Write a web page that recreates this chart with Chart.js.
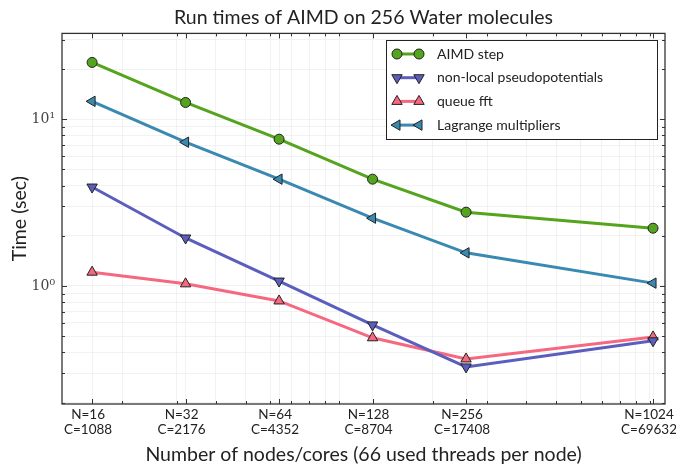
<!DOCTYPE html>
<html>
<head>
    <meta charset="UTF-8" />
    <title>AIMD run times</title>
    <script src="https://cdn.jsdelivr.net/npm/chart.js@4.4.0/dist/chart.umd.min.js"></script>
    <style>
        body { margin: 0; background: #fff; }
        #chart { display: block; }
    </style>
</head>
<body>
    <canvas id="chart" width="676" height="466"></canvas>

    <script>
        // data
        const nodes = [16, 32, 64, 128, 256, 1024];
        const cores = [1088, 2176, 4352, 8704, 17408, 69632];

        const aimdStep  = [21.9, 12.6, 7.59, 4.37, 2.77, 2.22];
        const nonLocal  = [3.92, 1.94, 1.07, 0.584, 0.327, 0.469];
        const queueFft  = [1.21, 1.03, 0.813, 0.489, 0.365, 0.495];
        const lagrange  = [12.8, 7.28, 4.37, 2.55, 1.58, 1.04];

        const xMinor = [20, 30, 40, 50, 60, 70, 80, 90, 100, 200, 300, 400, 500, 600, 700, 800, 900, 1000];
        const yTicks = [0.2, 0.3, 0.4, 0.5, 0.6, 0.7, 0.8, 0.9, 1, 2, 3, 4, 5, 6, 7, 8, 9, 10, 20, 30];
        const yLabels = { 1: '10\u2070', 10: '10\u00b9' };

        const sans = 'Lato';
        const ink = '#222';

        function series(label, values, color, style, rot) {
            return {
                label: label,
                data: nodes.map((n, i) => ({ x: n, y: values[i] })),
                borderColor: color,
                backgroundColor: color,
                borderWidth: 3,
                pointStyle: style,
                pointRotation: rot,
                pointRadius: style === 'circle' ? 5 : 6,
                pointBorderColor: ink,
                pointBorderWidth: 1,
                pointBackgroundColor: color,
                tension: 0
            };
        }

        const datasets = [
            series('AIMD step', aimdStep, '#55a41d', 'circle', 0),
            series('non-local pseudopotentials', nonLocal, '#5b5ebd', 'triangle', 180),
            series('queue fft', queueFft, '#f5687f', 'triangle', 0),
            series('Lagrange multipliers', lagrange, '#3a89b0', 'triangle', -90)
        ];

        // frame, inward ticks and legend box
        const decor = {
            id: 'decor',
            afterDraw(chart) {
                const ctx = chart.ctx;
                const a = chart.chartArea;
                const xs = chart.scales.x, ys = chart.scales.y;
                ctx.save();
                ctx.strokeStyle = '#333';
                ctx.lineWidth = 1;
                xs.ticks.forEach(t => {
                    const px = Math.round(xs.getPixelForValue(t.value)) + 0.5;
                    const len = nodes.includes(t.value) ? 5 : 3;
                    ctx.beginPath();
                    ctx.moveTo(px, a.bottom); ctx.lineTo(px, a.bottom - len);
                    ctx.moveTo(px, a.top); ctx.lineTo(px, a.top + len);
                    ctx.stroke();
                });
                ys.ticks.forEach(t => {
                    const py = Math.round(ys.getPixelForValue(t.value)) + 0.5;
                    const len = yLabels[t.value] ? 5 : 3;
                    ctx.beginPath();
                    ctx.moveTo(a.left, py); ctx.lineTo(a.left + len, py);
                    ctx.moveTo(a.right, py); ctx.lineTo(a.right - len, py);
                    ctx.stroke();
                });
                ctx.lineWidth = 1.3;
                ctx.strokeRect(a.left, a.top, a.right - a.left, a.bottom - a.top);

                // legend
                const bx = 386, by = 40, bw = 271, bh = 99;
                ctx.fillStyle = '#fff';
                ctx.fillRect(bx, by, bw, bh);
                ctx.strokeStyle = ink;
                ctx.lineWidth = 1;
                ctx.strokeRect(bx + 0.5, by + 0.5, bw, bh);
                ctx.font = '14px ' + sans;
                ctx.textBaseline = 'middle';
                chart.data.datasets.forEach((d, i) => {
                    const y = 54 + i * 23.7;
                    ctx.strokeStyle = d.borderColor;
                    ctx.lineWidth = 3;
                    ctx.beginPath();
                    ctx.moveTo(397, y); ctx.lineTo(419, y);
                    ctx.stroke();
                    [397, 419].forEach(x => {
                        ctx.fillStyle = d.pointBackgroundColor;
                        ctx.strokeStyle = ink;
                        ctx.lineWidth = 1;
                        Chart.helpers.drawPoint(ctx, {
                            pointStyle: d.pointStyle,
                            rotation: d.pointRotation,
                            radius: d.pointRadius,
                            borderWidth: 1
                        }, x, y);
                    });
                    ctx.fillStyle = ink;
                    ctx.fillText(d.label, 437, y);
                });
                ctx.restore();
            }
        };

        new Chart(document.getElementById('chart'), {
            type: 'line',
            data: { datasets: datasets },
            options: {
                responsive: false,
                animation: false,
                layout: { padding: { left: 0, right: 11, top: 0, bottom: 0 } },
                plugins: {
                    legend: { display: false },
                    tooltip: { enabled: false },
                    title: {
                        display: true,
                        fullSize: false,
                        text: 'Run times of AIMD on 256 Water molecules',
                        color: ink,
                        font: { family: sans, size: 19.5, weight: 'normal', lineHeight: 1.2 },
                        padding: { top: 6, bottom: 4 }
                    }
                },
                scales: {
                    x: {
                        type: 'logarithmic',
                        min: 12.8,
                        max: 1119,
                        afterBuildTicks(scale) {
                            scale.ticks = nodes.concat(xMinor).sort((p, q) => p - q).map(v => ({ value: v }));
                        },
                        afterFit(scale) {
                            scale.height = 62;
                            scale.paddingLeft = 0;
                            scale.paddingRight = 0;
                        },
                        grid: { color: '#efefef', lineWidth: 0.8, drawTicks: false },
                        border: { display: false },
                        ticks: {
                            autoSkip: false,
                            maxRotation: 0,
                            padding: 3,
                            labelOffset: -4,
                            color: ink,
                            font: { family: sans, size: 13.5, lineHeight: 1.12 },
                            callback(value) {
                                const i = nodes.indexOf(value);
                                return i < 0 ? '' : ['N=' + nodes[i], 'C=' + cores[i]];
                            }
                        },
                        title: {
                            display: true,
                            text: 'Number of nodes/cores (66 used threads per node)',
                            color: ink,
                            font: { family: sans, size: 19.5, lineHeight: 1.2 },
                            padding: 0
                        }
                    },
                    y: {
                        type: 'logarithmic',
                        min: 0.196,
                        max: 32.7,
                        afterBuildTicks(scale) {
                            scale.ticks = yTicks.map(v => ({ value: v }));
                        },
                        afterFit(scale) {
                            scale.width = 62;
                            scale.paddingTop = 0;
                            scale.paddingBottom = 0;
                        },
                        grid: { color: '#efefef', lineWidth: 0.8, drawTicks: false },
                        border: { display: false },
                        ticks: {
                            autoSkip: false,
                            padding: 7,
                            color: '#444',
                            font: { family: 'DejaVu Serif', size: 14 },
                            callback(value) { return yLabels[value] || ''; }
                        },
                        title: {
                            display: true,
                            text: 'Time (sec)',
                            color: ink,
                            font: { family: sans, size: 19.5, lineHeight: 1.2 },
                            padding: { top: 8, bottom: 0 }
                        }
                    }
                }
            },
            plugins: [decor]
        });
    </script>
</body>
</html>
